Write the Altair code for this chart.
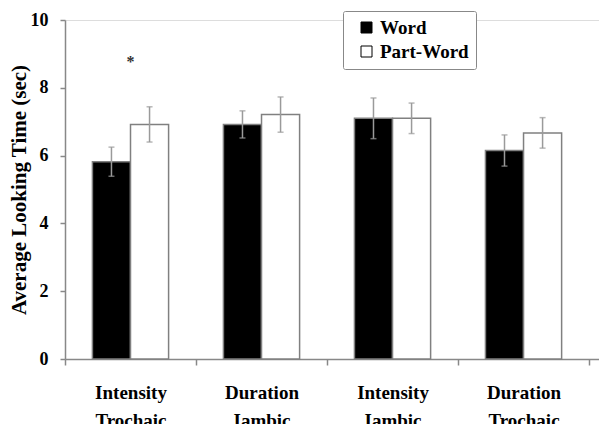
import altair as alt
import pandas as pd

categories = ["Intensity Trochaic", "Duration Iambic", "Intensity Iambic", "Duration Trochaic"]
groups = ["Word", "Part-Word"]
word_means = [5.82, 6.92, 7.10, 6.15]
word_err = [0.43, 0.40, 0.60, 0.46]
part_means = [6.92, 7.21, 7.10, 6.67]
part_err = [0.52, 0.52, 0.45, 0.45]
star_category = ["Intensity Trochaic"]
star_value = [8.85]

rows = []
for i, c in enumerate(categories):
    rows.append({"cond": c, "group": "Word", "mean": word_means[i],
                 "lo": word_means[i] - word_err[i], "hi": word_means[i] + word_err[i]})
    rows.append({"cond": c, "group": "Part-Word", "mean": part_means[i],
                 "lo": part_means[i] - part_err[i], "hi": part_means[i] + part_err[i]})
df = pd.DataFrame(rows)
star_df = pd.DataFrame({"cond": star_category, "v": star_value, "t": ["*"]})

FONT = "Liberation Serif"

x_enc = alt.X("cond:N", sort=categories,
              scale=alt.Scale(paddingInner=0, paddingOuter=0.038, align=0),
              axis=alt.Axis(title=None, labelAngle=0, tickBand="extent",
                            labelExpr="split(datum.label, ' ')",
                            labelFont=FONT, labelFontWeight="bold", labelFontSize=19,
                            labelColor="black", labelLineHeight=28, labelPadding=18,
                            domainColor="#888", tickColor="#888", tickSize=6,
                            domainWidth=1.5, tickWidth=1.5))
xo_enc = alt.XOffset("group:N", sort=groups,
                     scale=alt.Scale(paddingInner=0, paddingOuter=0.72))
y_scale = alt.Scale(domain=[0, 10])

bars = alt.Chart(df).mark_bar(stroke="#808080", strokeWidth=1.5).encode(
    x=x_enc,
    xOffset=xo_enc,
    y=alt.Y("mean:Q", scale=y_scale,
            axis=alt.Axis(title="Average Looking Time (sec)", values=[0, 2, 4, 6, 8, 10],
                          grid=False, labelFont=FONT, labelFontWeight="bold",
                          labelFontSize=18, labelColor="black", labelPadding=12,
                          titleFont=FONT, titleFontWeight="bold", titleFontSize=21,
                          titleColor="black", titlePadding=1,
                          domainColor="#888", tickColor="#888", tickSize=5,
                          domainWidth=1.5, tickWidth=1.5)),
    fill=alt.Fill("group:N", sort=groups,
                  scale=alt.Scale(domain=groups, range=["black", "white"]),
                  legend=alt.Legend(title=None, orient="none", legendX=278, legendY=-9,
                                    symbolType="square", symbolSize=121,
                                    symbolStrokeColor="black", symbolStrokeWidth=1,
                                    symbolOffset=7,
                                    labelExpr="datum.label + '\u00a0\u00a0'",
                                    labelFont=FONT, labelFontWeight="bold", labelFontSize=19,
                                    labelColor="black", labelOffset=4, rowPadding=4,
                                    padding=7, strokeColor="#888", cornerRadius=2,
                                    fillColor="white")),
)

err = alt.Chart(df).mark_rule(color="#9a9a9a", strokeWidth=1.5).encode(
    x=alt.X("cond:N", sort=categories),
    xOffset=xo_enc,
    y=alt.Y("lo:Q", scale=y_scale),
    y2="hi:Q",
)
cap_lo = alt.Chart(df).mark_tick(color="#9a9a9a", size=6, thickness=1.5, orient="horizontal").encode(
    x=alt.X("cond:N", sort=categories),
    xOffset=xo_enc,
    y=alt.Y("lo:Q", scale=y_scale),
)
cap_hi = alt.Chart(df).mark_tick(color="#9a9a9a", size=6, thickness=1.5, orient="horizontal").encode(
    x=alt.X("cond:N", sort=categories),
    xOffset=xo_enc,
    y=alt.Y("hi:Q", scale=y_scale),
)
star = alt.Chart(star_df).mark_text(font=FONT, fontWeight="bold", fontSize=16,
                                     color="#333", baseline="middle", dy=3).encode(
    x=alt.X("cond:N", sort=categories),
    y=alt.Y("v:Q", scale=y_scale),
    text="t:N",
)

chart = alt.layer(bars, err, cap_lo, cap_hi, star).properties(
    width=534, height=339,
    autosize=alt.AutoSizeParams(type="none"),
    padding={"left": 57, "top": 12, "right": 0, "bottom": 65},
).configure_view(stroke=None).configure(background="white")

chart.save("out.html", embed_options={"renderer": "svg", "actions": False})
